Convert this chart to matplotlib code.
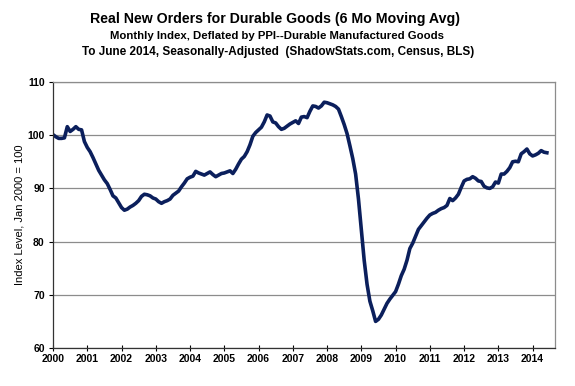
import numpy as np
import matplotlib
matplotlib.use("Agg")
import matplotlib.pyplot as plt

plt.rcParams['font.family'] = ['Liberation Sans', 'DejaVu Sans']

# Monthly index values, Jan 2000 .. Jun 2014
vals_2000 = [100.1, 99.7, 99.4, 99.4, 99.5, 101.6, 100.7, 101.1, 101.6, 101.1, 101.0, 98.8]
vals_2001 = [97.7, 96.9, 95.8, 94.6, 93.4, 92.5, 91.6, 90.9, 89.8, 88.6, 88.2, 87.3]
vals_2002 = [86.4, 85.9, 86.1, 86.5, 86.8, 87.2, 87.7, 88.5, 88.9, 88.8, 88.6, 88.2]
vals_2003 = [88.0, 87.5, 87.2, 87.5, 87.7, 88.0, 88.7, 89.1, 89.5, 90.3, 91.0, 91.8]
vals_2004 = [92.1, 92.3, 93.2, 92.9, 92.7, 92.5, 92.8, 93.1, 92.6, 92.2, 92.5, 92.8]
vals_2005 = [92.9, 93.1, 93.3, 92.8, 93.6, 94.6, 95.5, 96.0, 96.9, 98.2, 99.8, 100.5]
vals_2006 = [101.0, 101.5, 102.5, 103.8, 103.6, 102.5, 102.3, 101.6, 101.1, 101.3, 101.7, 102.1]
vals_2007 = [102.4, 102.7, 102.2, 103.4, 103.5, 103.3, 104.5, 105.5, 105.4, 105.1, 105.5, 106.2]
vals_2008 = [106.1, 105.9, 105.7, 105.4, 104.9, 103.5, 102.0, 100.3, 98.0, 95.6, 92.7, 88.0]
vals_2009 = [82.2, 76.5, 72.0, 68.8, 67.0, 65.0, 65.4, 66.2, 67.3, 68.4, 69.2, 69.9]
vals_2010 = [70.6, 72.0, 73.6, 74.8, 76.5, 78.7, 79.7, 81.0, 82.3, 83.0, 83.7, 84.4]
vals_2011 = [85.0, 85.3, 85.5, 85.9, 86.2, 86.4, 86.8, 88.1, 87.7, 88.2, 88.9, 90.2]
vals_2012 = [91.4, 91.7, 91.8, 92.2, 91.9, 91.4, 91.3, 90.4, 90.1, 90.0, 90.3, 91.2]
vals_2013 = [91.0, 92.7, 92.7, 93.2, 93.9, 95.0, 95.1, 95.0, 96.5, 96.9, 97.4, 96.5]
vals_2014 = [96.1, 96.3, 96.6, 97.1, 96.8, 96.7]

index_vals = (vals_2000 + vals_2001 + vals_2002 + vals_2003 + vals_2004 +
              vals_2005 + vals_2006 + vals_2007 + vals_2008 + vals_2009 +
              vals_2010 + vals_2011 + vals_2012 + vals_2013 + vals_2014)
years = 2000 + np.arange(len(index_vals)) / 12.0

year_ticks = list(range(2000, 2015))
y_ticks = [60, 70, 80, 90, 100, 110]

fig = plt.figure(figsize=(5.75, 3.86), dpi=100)
ax = fig.add_axes([0.0922, 0.0984, 0.8728, 0.6892])

# Horizontal gridlines
ax.yaxis.grid(True, color='#8c8c8c', lw=0.9)
ax.set_axisbelow(True)

ax.plot(years, index_vals, color='#0b1f5c', lw=2.6, solid_joinstyle='round')

ax.set_xlim(2000, 2014.65)
ax.set_ylim(60, 110)
ax.set_xticks(year_ticks)
ax.set_xticklabels([str(y) for y in year_ticks], fontsize=7.5, fontweight='bold')
ax.set_yticks(y_ticks)
ax.set_yticklabels([str(v) for v in y_ticks], fontsize=7.5, fontweight='bold')
ax.tick_params(axis='x', direction='inout', length=4, width=0.8, pad=2)
ax.tick_params(axis='y', direction='out', length=3, width=0.8, pad=3)

for side in ['left', 'bottom']:
    ax.spines[side].set_color('#333333')
    ax.spines[side].set_linewidth(0.9)
for side in ['right', 'top']:
    ax.spines[side].set_color('#8c8c8c')
    ax.spines[side].set_linewidth(0.9)

ax.set_ylabel('Index Level, Jan 2000 = 100', fontsize=8, labelpad=2)

# Titles
fig.text(0.478, 0.952, 'Real New Orders for Durable Goods (6 Mo Moving Avg)',
         ha='center', va='center', fontsize=10.2, fontweight='bold')
fig.text(0.482, 0.908, 'Monthly Index, Deflated by PPI--Durable Manufactured Goods',
         ha='center', va='center', fontsize=8.2, fontweight='bold')
fig.text(0.483, 0.866, 'To June 2014, Seasonally-Adjusted  (ShadowStats.com, Census, BLS)',
         ha='center', va='center', fontsize=8.5, fontweight='bold')

fig.savefig('out.png', dpi=100)
